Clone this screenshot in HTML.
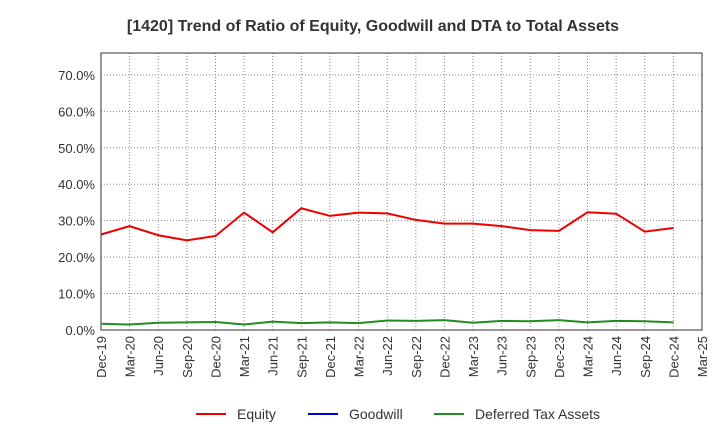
<!DOCTYPE html>
<html><head><meta charset="utf-8"><style>
body{margin:0;background:#fff;font-family:"Liberation Sans",sans-serif;}
</style></head><body>
<svg width="720" height="440" xmlns="http://www.w3.org/2000/svg" font-family="Liberation Sans, sans-serif">
<text x="373" y="31" text-anchor="middle" font-size="16" font-weight="bold" fill="#333">[1420]  Trend of Ratio of Equity, Goodwill and DTA to Total Assets</text>
<g id="grid"></g><g id="axes"></g><g id="series"></g>
<g>
<line x1="196" y1="414" x2="226" y2="414" stroke="#e00" stroke-width="2"/><text x="237" y="419" font-size="14" fill="#333">Equity</text>
<line x1="308" y1="414" x2="338" y2="414" stroke="#0000cc" stroke-width="2"/><text x="349" y="419" font-size="14" fill="#333">Goodwill</text>
<line x1="434" y1="414" x2="464" y2="414" stroke="#228b22" stroke-width="2"/><text x="475" y="419" font-size="14" fill="#333">Deferred Tax Assets</text>
</g>
</svg>
<script>
const categories=["Dec-19","Mar-20","Jun-20","Sep-20","Dec-20","Mar-21","Jun-21","Sep-21","Dec-21","Mar-22","Jun-22","Sep-22","Dec-22","Mar-23","Jun-23","Sep-23","Dec-23","Mar-24","Jun-24","Sep-24","Dec-24","Mar-25"];
const equity=[26.2,28.5,26.0,24.6,25.8,32.2,26.8,33.4,31.3,32.2,32.0,30.2,29.2,29.2,28.5,27.4,27.2,32.3,31.9,27.0,28.0];
const goodwill=[];
const dta=[1.7,1.5,2.0,2.1,2.2,1.5,2.3,1.9,2.1,1.9,2.6,2.5,2.7,2.0,2.5,2.4,2.7,2.1,2.5,2.4,2.1];
const yTicks=[0,10,20,30,40,50,60,70];
const L=101,R=702,T=53,B=330,YMAX=76;
const NS="http://www.w3.org/2000/svg";
const x=i=>L+i*(R-L)/(categories.length-1);
const y=v=>B-v/YMAX*(B-T);
function mk(tag,attrs,parent){const e=document.createElementNS(NS,tag);for(const k in attrs)e.setAttribute(k,attrs[k]);document.getElementById(parent).appendChild(e);return e;}
yTicks.forEach(v=>{
 const g=mk('line',{x1:L,x2:R,y1:y(v),y2:y(v),stroke:'#888','stroke-dasharray':'1,2'},'grid');
 
 
 const t=mk('text',{x:L-6,y:y(v)+5,'text-anchor':'end','font-size':'13',fill:'#333'},'axes');
 t.textContent=v.toFixed(1)+'%';
 
 
});
categories.forEach((c,i)=>{
 const g=mk('line',{x1:x(i),x2:x(i),y1:T,y2:B,stroke:'#888','stroke-dasharray':'1,2'},'grid');
 
 
 const t=mk('text',{transform:`translate(${x(i)+5},${B+6}) rotate(-90)`,'text-anchor':'end','font-size':'13',fill:'#333'},'axes');
 t.textContent=c;
 
 
});
const fr=mk('rect',{x:L,y:T,width:R-L,height:B-T,fill:'none',stroke:'#333'},'axes');


function line(data,color,name){
 if(!data.length)return;
 const p=mk('polyline',{points:data.map((v,i)=>x(i)+','+y(v)).join(' '),fill:'none',stroke:color,'stroke-width':2},'series');
 
 
}
line(dta,'#228b22','dta-line');
line(goodwill,'#0000cc','goodwill-line');
line(equity,'#e00','equity-line');
</script>
</body></html>
